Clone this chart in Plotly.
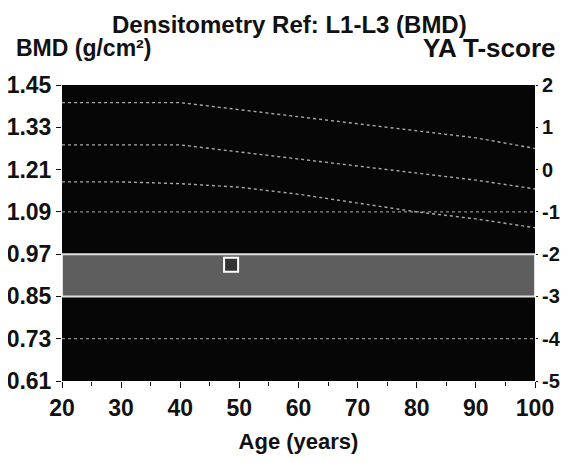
import plotly.graph_objects as go

# Data
ages = [20, 30, 40, 50, 60, 70, 80, 90, 100]
curve_plus1 = [1.40, 1.40, 1.40, 1.38, 1.36, 1.34, 1.32, 1.30, 1.27]
curve_mean = [1.28, 1.28, 1.28, 1.26, 1.24, 1.22, 1.20, 1.18, 1.155]
curve_minus1 = [1.175, 1.175, 1.17, 1.16, 1.14, 1.115, 1.09, 1.07, 1.045]
ref_lines = [1.09, 0.73]          # dotted horizontal reference lines
band = [0.85, 0.97]               # grey band
patient_age = [48.6]
patient_bmd = [0.94]
bmd_ticks = [0.61, 0.73, 0.85, 0.97, 1.09, 1.21, 1.33, 1.45]
bmd_labels = ["0.61", "0.73", "0.85", "0.97", "1.09", "1.21", "1.33", "1.45"]
t_ticks = [-5, -4, -3, -2, -1, 0, 1, 2]
t_labels = ["-5", "-4", "-3", "-2", "-1", "0", "1", "2"]
age_ticks = [20, 30, 40, 50, 60, 70, 80, 90, 100]

FONT = "Liberation Sans, Arial, sans-serif"
TXT = "#111111"

fig = go.Figure()

# grey band
fig.add_trace(go.Scatter(x=[ages[0], ages[-1], ages[-1], ages[0], ages[0]],
                         y=[band[0], band[0], band[1], band[1], band[0]],
                         fill="toself", fillcolor="#5e5e5e", mode="lines",
                         line=dict(color="#e0e0e0", width=2), hoverinfo="skip",
                         showlegend=False))

for v in ref_lines:
    fig.add_trace(go.Scatter(x=[ages[0], ages[-1]], y=[v, v], mode="lines",
                             line=dict(color="#8c8c8c", width=1.3, dash="dot"),
                             showlegend=False))

for c in (curve_plus1, curve_mean, curve_minus1):
    fig.add_trace(go.Scatter(x=ages, y=c, mode="lines",
                             line=dict(color="#a8a8a8", width=1.4, dash="dot"),
                             showlegend=False))

fig.add_trace(go.Scatter(x=patient_age, y=patient_bmd, mode="markers",
                         marker=dict(symbol="square", size=14, color="#333333",
                                     line=dict(color="white", width=2)),
                         showlegend=False))

# dummy trace for right axis
fig.add_trace(go.Scatter(x=[ages[0]], y=[t_ticks[0]], yaxis="y2", mode="markers",
                         marker=dict(opacity=0), showlegend=False, hoverinfo="skip"))

tickfont = dict(family=FONT, size=23, color=TXT, weight=700)
tickfont_r = dict(family=FONT, size=20, color=TXT, weight=700)

fig.update_layout(
    width=552, height=447,
    margin=dict(l=54, r=25, t=77, b=74),
    paper_bgcolor="white", plot_bgcolor="#060606",
    font=dict(family=FONT, size=22, color=TXT),
    xaxis=dict(range=[20, 100], tickvals=age_ticks, ticks="outside", ticklen=6,
               tickcolor=TXT, showgrid=False, zeroline=False, automargin=False,
               minor=dict(dtick=5, ticks="outside", ticklen=4, tickcolor=TXT),
               tickfont=tickfont,
               title=dict(text="Age (years)", font=dict(family=FONT, size=22, color=TXT, weight=700),
                          standoff=14)),
    yaxis=dict(range=[0.61, 1.45], tickvals=bmd_ticks, ticktext=bmd_labels,
               ticks="outside", ticklen=5, tickcolor=TXT, showgrid=False,
               zeroline=False, tickfont=tickfont, automargin=False),
    yaxis2=dict(range=[-5, 2], tickvals=t_ticks, ticktext=t_labels, overlaying="y",
                side="right", ticks="outside", ticklen=2, tickcolor=TXT,
                showgrid=False, zeroline=False, tickfont=tickfont_r, automargin=False),
    annotations=[
        dict(text="Densitometry Ref: L1-L3 (BMD)", xref="paper", yref="paper",
             x=0.48, y=1.0, yshift=61, showarrow=False,
             font=dict(family=FONT, size=24, color=TXT, weight=700),
             xanchor="center", yanchor="middle"),
        dict(text="BMD (g/cm²)", xref="paper", yref="paper", x=0, xshift=-48,
             y=1.0, yshift=37, showarrow=False,
             font=dict(family=FONT, size=23, color=TXT, weight=700),
             xanchor="left", yanchor="middle"),
        dict(text="YA T-score", xref="paper", yref="paper", x=1, xshift=22,
             y=1.0, yshift=37, showarrow=False,
             font=dict(family=FONT, size=26, color=TXT, weight=700),
             xanchor="right", yanchor="middle"),
    ],
)

fig.write_html("out.html")
